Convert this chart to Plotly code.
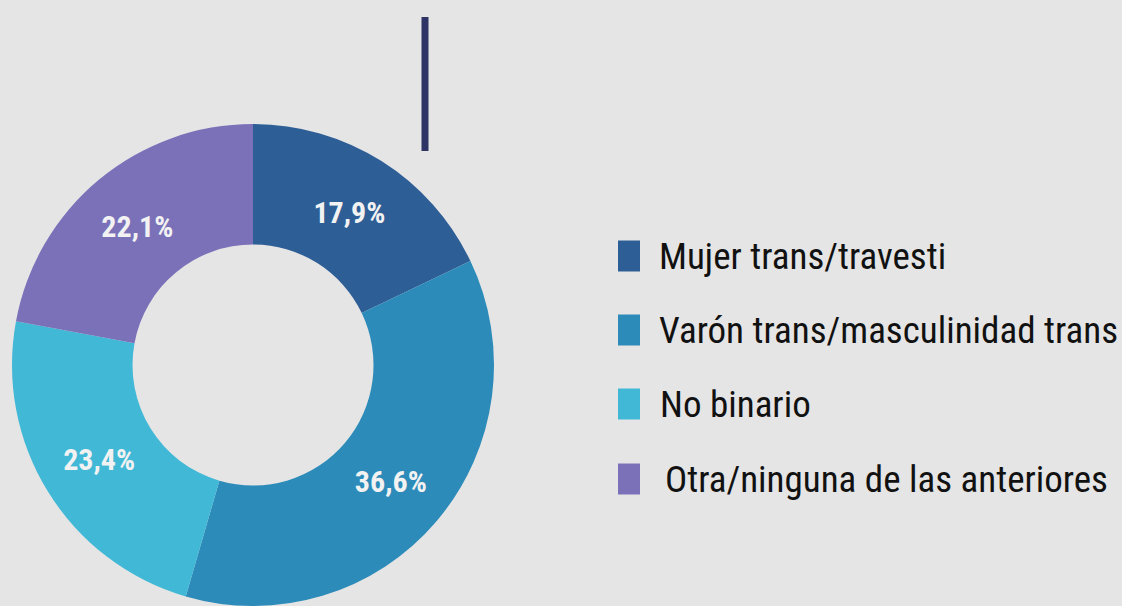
import plotly.graph_objects as go

labels = ["Mujer trans/travesti", "Varón trans/masculinidad trans", "No binario", "Otra/ninguna de las anteriores"]
values = [17.9, 36.6, 23.4, 22.1]
text_labels = ["17,9%", "36,6%", "23,4%", "22,1%"]
colors = ["#2E5E96", "#2C8BB9", "#41B8D6", "#7A71B9"]

BG = "#E5E5E5"
W, H = 1122, 606
FONT = "Roboto Condensed, Open Sans Condensed, DejaVu Sans Condensed, sans-serif"

fig = go.Figure()
fig.add_trace(go.Pie(
    labels=labels, values=values, text=text_labels,
    textinfo="text", textposition="inside", insidetextorientation="horizontal",
    sort=False, direction="clockwise", rotation=0, hole=0.5,
    marker=dict(colors=colors, line=dict(width=0)),
    textfont=dict(family=FONT, size=30, color="#F2F2F2", weight="bold"),
    domain=dict(x=[0, 506 / W], y=[0, 1 - 124 / H]),
    showlegend=False, hoverinfo="label+text",
))

# vertical accent line
fig.add_shape(type="line", xref="paper", yref="paper",
              x0=425 / W, x1=425 / W, y0=1 - 17 / H, y1=1 - 151 / H,
              line=dict(color="#2E3566", width=7))

# manual legend
legend_y = [256, 330, 404, 479]
text_x = [657, 657, 658, 663]
for lab, col, yc, tx in zip(labels, colors, legend_y, text_x):
    fig.add_shape(type="rect", xref="paper", yref="paper",
                  x0=618 / W, x1=640 / W, y0=1 - (yc - 15.5) / H, y1=1 - (yc + 15.5) / H,
                  fillcolor=col, line=dict(width=0))
    fig.add_annotation(x=tx / W, y=1 - yc / H, xref="paper", yref="paper",
                       text=lab, showarrow=False, xanchor="left", yanchor="middle",
                       font=dict(family=FONT, size=37, color="#111111"))

fig.update_layout(width=W, height=H, margin=dict(l=0, r=0, t=0, b=0),
                  paper_bgcolor=BG, plot_bgcolor=BG)
fig.write_html("out.html", config={"displayModeBar": False},
               post_script="document.body.style.margin='0';document.body.style.background='#E5E5E5';")
